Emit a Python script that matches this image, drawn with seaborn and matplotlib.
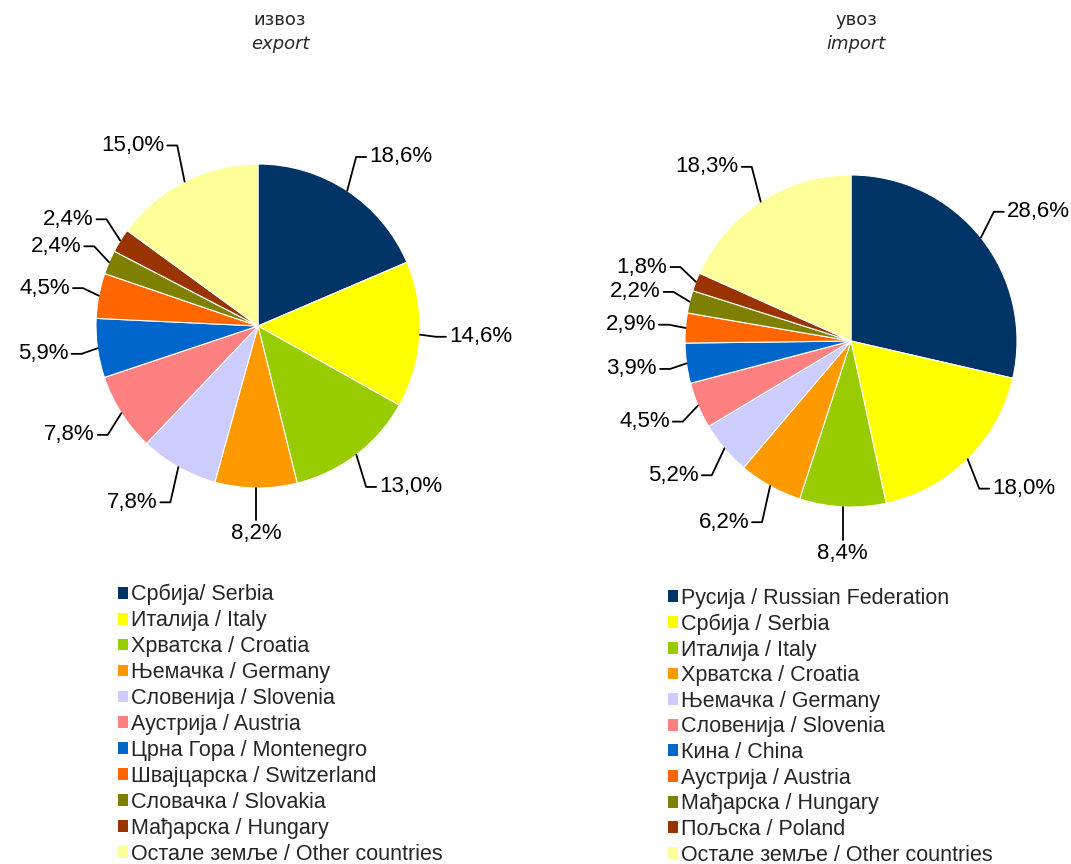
import numpy as np
import matplotlib
matplotlib.use("Agg")
import matplotlib.pyplot as plt
import seaborn as sns

sns.set_theme(style="white")
plt.rcParams['font.family'] = ['Liberation Sans', 'DejaVu Sans']

export_labels = ["Србија/ Serbia", "Италија / Italy", "Хрватска / Croatia", "Њемачка / Germany",
                 "Словенија / Slovenia", "Аустрија / Austria", "Црна Гора / Montenegro",
                 "Швајцарска / Switzerland", "Словачка / Slovakia", "Мађарска / Hungary",
                 "Остале земље / Other countries"]
export_values = [18.6, 14.6, 13.0, 8.2, 7.8, 7.8, 5.9, 4.5, 2.4, 2.4, 15.0]

import_labels = ["Русија / Russian Federation", "Србија / Serbia", "Италија / Italy",
                 "Хрватска / Croatia", "Њемачка / Germany", "Словенија / Slovenia",
                 "Кина / China", "Аустрија / Austria", "Мађарска / Hungary",
                 "Пољска / Poland", "Остале земље / Other countries"]
import_values = [28.6, 18.0, 8.4, 6.2, 5.2, 4.5, 3.9, 2.9, 2.2, 1.8, 18.3]

palette = sns.color_palette(["#003366", "#FFFF00", "#99CC00", "#FF9900", "#CCCCFF", "#FF8080",
                             "#0066CC", "#FF6600", "#808000", "#993300", "#FFFF99"])

W, H = 1071, 864
fig = plt.figure(figsize=(W / 100, H / 100), dpi=100)
ax = fig.add_axes([0, 0, 1, 1])


def fmt(v):
    return f"{v:.1f}".replace(".", ",") + "%"


def draw_pie(values, labels, center, radius, title1, title2, title_x, legend_xy, spacing):
    wedges, _ = ax.pie(values, colors=palette, startangle=90, counterclock=False,
                       center=center, radius=radius,
                       wedgeprops=dict(edgecolor="white", linewidth=0.8))
    total = sum(values)
    cum = 0.0
    cx, cy = center
    for v in values:
        mid = 90 - (cum + v / 2) / total * 360
        cum += v
        a = np.deg2rad(mid)
        c, s = np.cos(a), np.sin(a)
        p0 = (cx + radius * c, cy + radius * s)
        if abs(c) < 0.45:
            p1 = (p0[0], cy + 1.2 * radius * s)
            ax.plot([p0[0], p1[0]], [p0[1], p1[1]], color="black", lw=1.3)
            ax.text(p1[0], p1[1] + (3 if s > 0 else -3), fmt(v), fontsize=16,
                    ha="center", va="bottom" if s > 0 else "top", color="black")
        else:
            p1 = (cx + 1.1 * radius * c, cy + 1.25 * radius * s)
            sign = 1 if c > 0 else -1
            p2 = (p1[0] + sign * 10, p1[1])
            ax.plot([p0[0], p1[0], p2[0]], [p0[1], p1[1], p2[1]], color="black", lw=1.3)
            ax.text(p2[0] + sign * 3, p2[1], fmt(v), fontsize=16,
                    ha="left" if sign > 0 else "right", va="center", color="black")
    ax.text(title_x, H - 20, title1, fontsize=13, ha="center", va="center",
            family="DejaVu Sans")
    ax.text(title_x, H - 44, title2, fontsize=13, ha="center", va="center",
            family="DejaVu Sans", style="italic")
    leg = ax.legend(wedges, labels, loc="upper left", bbox_to_anchor=legend_xy,
                    bbox_transform=ax.transData, frameon=False, fontsize=15.5,
                    handlelength=0.47, handleheight=0.47, handletextpad=0.15,
                    labelspacing=spacing, borderpad=0, borderaxespad=0)
    for h in leg.legend_handles:
        h.set_edgecolor("none")
    return leg


leg1 = draw_pie(export_values, export_labels, (258, H - 326), 162, "извоз", "export", 280,
                (118, H - 584), 0.23)
ax.add_artist(leg1)
draw_pie(import_values, import_labels, (851, H - 341), 166, "увоз", "import", 856,
         (668, H - 588), 0.215)

ax.set_xlim(0, W)
ax.set_ylim(0, H)
ax.set_aspect("equal")
ax.axis("off")
fig.savefig("out.png", dpi=100, facecolor="white")
